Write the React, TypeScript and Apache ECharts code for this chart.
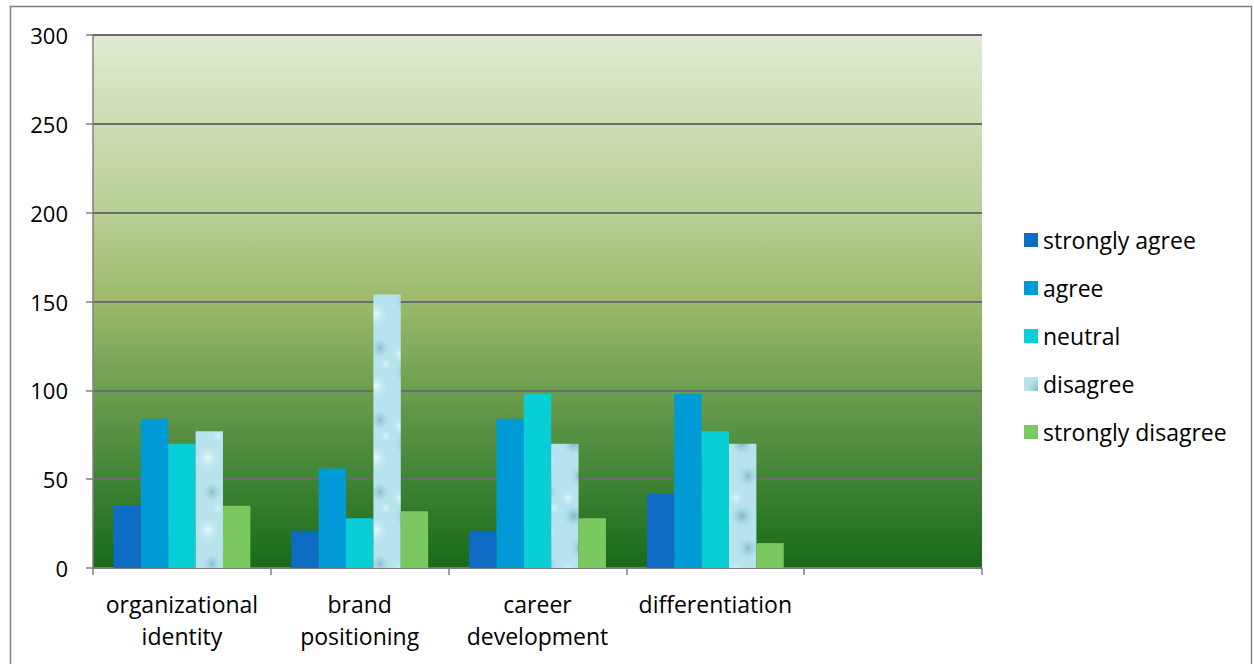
import React, { useEffect, useRef } from "react";
import * as echarts from "echarts";

const categories = ["organizational\nidentity", "brand\npositioning", "career\ndevelopment", "differentiation", ""];
const seriesNames = ["strongly agree", "agree", "neutral", "disagree", "strongly disagree"];
const stronglyAgree = [35, 21, 21, 42, null];
const agree = [84, 56, 84, 98, null];
const neutral = [70, 28, 98, 77, null];
const disagree = [77, 154, 70, 70, null];
const stronglyDisagree = [35, 32, 28, 14, null];
const yTicks = { min: 0, max: 300, interval: 50 };

function makeWaterPattern(): HTMLCanvasElement {
  const c = document.createElement("canvas");
  c.width = 56;
  c.height = 72;
  const ctx = c.getContext("2d")!;
  ctx.fillStyle = "#b6e3ee";
  ctx.fillRect(0, 0, 56, 72);
  const blobs = [
    [14, 12, 13, "rgba(120,176,192,0.9)"],
    [40, 26, 15, "rgba(228,249,252,1)"],
    [20, 44, 12, "rgba(125,180,196,0.85)"],
    [44, 60, 11, "rgba(130,184,199,0.85)"],
    [8, 66, 9, "rgba(222,247,251,1)"],
    [50, 4, 7, "rgba(218,245,250,1)"],
  ] as const;
  for (const [x, y, r, col] of blobs) {
    const g = ctx.createRadialGradient(x, y, 0, x, y, r);
    g.addColorStop(0, col);
    g.addColorStop(1, "rgba(182,227,238,0)");
    ctx.fillStyle = g;
    ctx.beginPath();
    ctx.arc(x, y, r, 0, Math.PI * 2);
    ctx.fill();
  }
  return c;
}

export default function App() {
  const ref = useRef<HTMLDivElement>(null);
  useEffect(() => {
    if (!ref.current) return;
    const chart = echarts.init(ref.current, undefined, { renderer: "svg" });
    const pattern = { image: makeWaterPattern(), repeat: "repeat" };
    const colors = ["#0f6cc4", "#009bd6", "#08ced8", pattern, "#7ac85f"];
    const data = [stronglyAgree, agree, neutral, disagree, stronglyDisagree];
    const font = "'Open Sans', 'Noto Sans', sans-serif";
    chart.setOption({
      animation: false,
      textStyle: { fontFamily: font },
      graphic: [
        {
          type: "rect",
          shape: { x: 10.5, y: 6.5, width: 1241, height: 670 },
          style: { fill: "none", stroke: "#7f7f7f", lineWidth: 1.5 },
          silent: true,
        },
      ],
      grid: {
        left: 93,
        top: 35,
        right: 272,
        bottom: 96,
        show: true,
        borderWidth: 0,
        backgroundColor: {
          type: "linear",
          x: 0,
          y: 0,
          x2: 0,
          y2: 1,
          colorStops: [
            { offset: 0, color: "#e0ebd2" },
            { offset: 0.33, color: "#b9cf95" },
            { offset: 0.5, color: "#9cb96c" },
            { offset: 0.67, color: "#6c9d4e" },
            { offset: 0.83, color: "#3f8535" },
            { offset: 1, color: "#186a17" },
          ],
        },
      },
      legend: {
        orient: "vertical",
        left: 1024,
        top: 228,
        padding: 0,
        itemWidth: 14,
        itemHeight: 14,
        itemGap: 24,
        itemTextGap: 13,
        icon: "rect",
        data: seriesNames,
        textStyle: { fontSize: 23, color: "#000", fontFamily: font, lineHeight: 24 },
      },
      xAxis: {
        type: "category",
        data: categories,
        axisLine: { lineStyle: { color: "#808080", width: 1.5 } },
        axisTick: { show: true, length: 7, lineStyle: { color: "#808080", width: 1.5 } },
        axisLabel: { fontSize: 23, color: "#000", lineHeight: 32, margin: 20, fontFamily: font, interval: 0 },
      },
      yAxis: {
        type: "value",
        min: yTicks.min,
        max: yTicks.max,
        interval: yTicks.interval,
        axisLine: { show: true, lineStyle: { color: "#808080", width: 1.5 } },
        axisTick: { show: true, length: 7, lineStyle: { color: "#808080", width: 1.5 } },
        axisLabel: { fontSize: 22, color: "#000", margin: 25, fontFamily: font },
        splitLine: { lineStyle: { color: "#6b6b6b", width: 2 } },
      },
      series: seriesNames.map((name, i) => ({
        name,
        type: "bar",
        data: data[i],
        barGap: "0%",
        barCategoryGap: "23%",
        itemStyle: { color: colors[i] },
      })),
    });
    return () => chart.dispose();
  }, []);
  return <div ref={ref} style={{ width: 1254, height: 664, position: "absolute", left: 0, top: 0 }} />;
}
